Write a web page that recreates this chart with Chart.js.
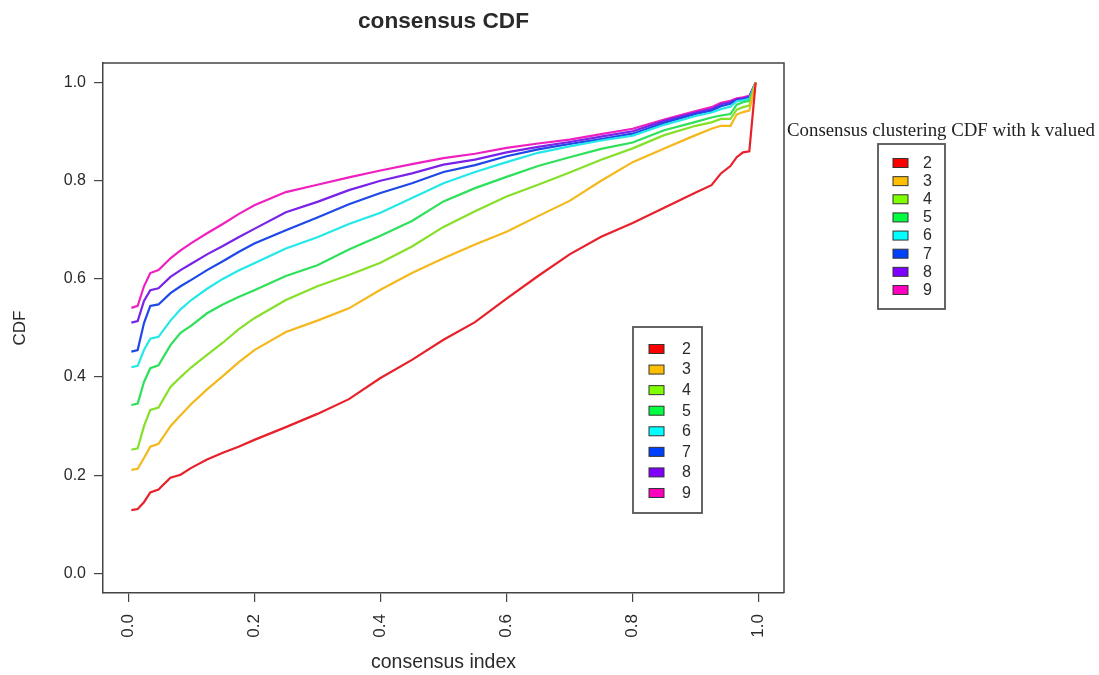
<!DOCTYPE html>
<html>
<head>
<meta charset="utf-8">
<script src="https://cdn.jsdelivr.net/npm/chart.js@4/dist/chart.umd.min.js"></script>
<style>
html,body{margin:0;padding:0;background:#fff;}
#wrap{width:1099px;height:675px;position:relative;}
</style>
</head>
<body>
<div id="wrap"><canvas id="c" width="1099" height="675"></canvas></div>
<script>
// ---- data ----
const chartTitle = "consensus CDF";
const xAxisTitle = "consensus index";
const yAxisTitle = "CDF";
const legendTitle = "Consensus clustering CDF with k valued";
const kLabels = ["2", "3", "4", "5", "6", "7", "8", "9"];
const tickValues = [0, 0.2, 0.4, 0.6, 0.8, 1.0];
const consensusIndex = [0.005, 0.015, 0.025, 0.035, 0.048, 0.067, 0.083, 0.1, 0.125, 0.15, 0.175, 0.2, 0.25, 0.3, 0.35, 0.4, 0.45, 0.5, 0.55, 0.6, 0.65, 0.7, 0.75, 0.8, 0.85, 0.9, 0.925, 0.94, 0.955, 0.965, 0.975, 0.985, 0.995];
const cdfK2 = [0.129, 0.131, 0.145, 0.165, 0.171, 0.195, 0.201, 0.215, 0.232, 0.246, 0.258, 0.272, 0.298, 0.325, 0.355, 0.398, 0.435, 0.476, 0.512, 0.560, 0.606, 0.650, 0.686, 0.714, 0.745, 0.776, 0.791, 0.815, 0.830, 0.848, 0.858, 0.860, 1.0];
const cdfK3 = [0.211, 0.213, 0.235, 0.258, 0.264, 0.300, 0.322, 0.345, 0.375, 0.402, 0.430, 0.455, 0.492, 0.515, 0.540, 0.578, 0.612, 0.642, 0.670, 0.696, 0.728, 0.759, 0.800, 0.838, 0.866, 0.893, 0.906, 0.912, 0.912, 0.935, 0.940, 0.943, 1.0];
const cdfK4 = [0.252, 0.255, 0.300, 0.333, 0.338, 0.380, 0.400, 0.420, 0.445, 0.470, 0.497, 0.520, 0.557, 0.585, 0.608, 0.633, 0.666, 0.706, 0.738, 0.768, 0.792, 0.817, 0.843, 0.866, 0.893, 0.912, 0.919, 0.926, 0.926, 0.945, 0.950, 0.953, 1.0];
const cdfK5 = [0.343, 0.346, 0.390, 0.418, 0.424, 0.465, 0.490, 0.505, 0.530, 0.548, 0.563, 0.577, 0.606, 0.628, 0.660, 0.688, 0.718, 0.758, 0.785, 0.808, 0.830, 0.848, 0.865, 0.878, 0.903, 0.920, 0.929, 0.933, 0.936, 0.955, 0.960, 0.963, 1.0];
const cdfK6 = [0.420, 0.423, 0.455, 0.478, 0.482, 0.515, 0.538, 0.557, 0.580, 0.600, 0.617, 0.632, 0.662, 0.685, 0.712, 0.735, 0.765, 0.795, 0.818, 0.838, 0.857, 0.870, 0.882, 0.892, 0.914, 0.932, 0.939, 0.946, 0.951, 0.962, 0.964, 0.967, 1.0];
const cdfK7 = [0.452, 0.455, 0.510, 0.545, 0.548, 0.571, 0.585, 0.598, 0.618, 0.636, 0.655, 0.672, 0.699, 0.725, 0.752, 0.775, 0.795, 0.818, 0.832, 0.850, 0.864, 0.875, 0.885, 0.896, 0.918, 0.936, 0.943, 0.952, 0.957, 0.964, 0.966, 0.969, 1.0];
const cdfK8 = [0.511, 0.514, 0.555, 0.577, 0.581, 0.604, 0.618, 0.631, 0.650, 0.667, 0.685, 0.702, 0.736, 0.757, 0.781, 0.800, 0.815, 0.833, 0.843, 0.858, 0.869, 0.879, 0.890, 0.901, 0.922, 0.939, 0.946, 0.956, 0.960, 0.966, 0.968, 0.971, 1.0];
const cdfK9 = [0.541, 0.545, 0.585, 0.612, 0.618, 0.642, 0.658, 0.673, 0.693, 0.712, 0.732, 0.750, 0.777, 0.792, 0.807, 0.821, 0.834, 0.846, 0.855, 0.867, 0.876, 0.884, 0.895, 0.906, 0.925, 0.942, 0.950, 0.959, 0.963, 0.968, 0.970, 0.973, 1.0];

// ---- styles ----
const lineColors = ["#e8202a", "#f4b81c", "#86e02a", "#2ee05a", "#24e8e8", "#1f48e8", "#7a22e8", "#f020c0"];
const keyColors = ["#FF0000", "#FFBF00", "#80FF00", "#00FF40", "#00FFFF", "#0040FF", "#8000FF", "#FF00BF"];
const allSeries = [cdfK2, cdfK3, cdfK4, cdfK5, cdfK6, cdfK7, cdfK8, cdfK9];
const SANS = '"Liberation Sans", Arial, sans-serif';
const SERIF = '"Liberation Serif", "DejaVu Serif", serif';
const TXT = '#2a2a2a';

const datasets = allSeries.map((ys, i) => ({
  label: kLabels[i],
  data: consensusIndex.map((x, j) => ({x: x, y: ys[j]})),
  borderColor: lineColors[i],
  backgroundColor: lineColors[i],
  borderWidth: 2.2,
  pointRadius: 0,
  tension: 0,
  fill: false
}));

function fitFont(ctx, text, weight, family, target) {
  ctx.font = weight + ' 100px ' + family;
  const w = ctx.measureText(text).width;
  return weight + ' ' + (100 * target / w).toFixed(2) + 'px ' + family;
}

function drawLegend(ctx, box, firstY, step, sqX, txtX) {
  ctx.save();
  ctx.strokeStyle = '#555';
  ctx.lineWidth = 1.8;
  ctx.strokeRect(box[0], box[1], box[2] - box[0], box[3] - box[1]);
  ctx.font = '16px ' + SANS;
  ctx.textAlign = 'left';
  ctx.textBaseline = 'middle';
  kLabels.forEach((lab, i) => {
    const cy = firstY + i * step;
    ctx.fillStyle = keyColors[i];
    ctx.fillRect(sqX, cy - 4.5, 15, 9);
    ctx.strokeStyle = '#333';
    ctx.lineWidth = 1;
    ctx.strokeRect(sqX, cy - 4.5, 15, 9);
    ctx.fillStyle = TXT;
    ctx.fillText(lab, txtX, cy + 0.5);
  });
  ctx.restore();
}

const decor = {
  id: 'decor',
  afterDraw(chart) {
    const ctx = chart.ctx;
    const a = chart.chartArea;
    ctx.save();
    // box top and right
    ctx.strokeStyle = '#444';
    ctx.lineWidth = 1.5;
    ctx.beginPath();
    ctx.moveTo(a.left, a.top);
    ctx.lineTo(a.right, a.top);
    ctx.lineTo(a.right, a.bottom);
    ctx.stroke();
    // main title
    ctx.fillStyle = TXT;
    ctx.textAlign = 'center';
    ctx.textBaseline = 'middle';
    ctx.font = fitFont(ctx, chartTitle, 'bold', SANS, 171);
    ctx.fillText(chartTitle, (a.left + a.right) / 2, 22);
    // x axis title
    ctx.font = fitFont(ctx, xAxisTitle, 'normal', SANS, 145);
    ctx.fillText(xAxisTitle, (a.left + a.right) / 2, 663);
    // y axis title
    ctx.save();
    ctx.translate(20, (a.top + a.bottom) / 2);
    ctx.rotate(-Math.PI / 2);
    ctx.font = '17px ' + SANS;
    ctx.fillText(yAxisTitle, 0, 0);
    ctx.restore();
    // legend title (serif)
    ctx.textAlign = 'left';
    ctx.font = fitFont(ctx, legendTitle, 'normal', SERIF, 308);
    ctx.fillStyle = '#222';
    ctx.fillText(legendTitle, 787, 131);
    ctx.restore();
    // legends
    drawLegend(ctx, [633, 327, 702, 513], 349, 20.57, 649, 682);
    drawLegend(ctx, [878, 144, 945, 309], 163, 18.14, 893, 923);
  }
};

const axisCommon = {
  type: 'linear',
  min: -0.04,
  max: 1.04,
  afterBuildTicks: (s) => { s.ticks = tickValues.map(v => ({value: v})); },
  grid: {display: true, drawOnChartArea: false, drawTicks: true, tickLength: 9, color: '#444', lineWidth: 1.2},
  border: {display: true, color: '#444', width: 1.5}
};

new Chart(document.getElementById('c'), {
  type: 'line',
  data: {datasets: datasets},
  options: {
    responsive: false,
    animation: false,
    layout: {padding: {left: 0, top: 63, right: 315, bottom: 0}},
    plugins: {legend: {display: false}, title: {display: false}, tooltip: {enabled: false}},
    scales: {
      x: Object.assign({}, axisCommon, {
        position: 'bottom',
        afterFit: (s) => { s.height = 82; },
        ticks: {autoSkip: false, minRotation: 90, maxRotation: 90, padding: 12, color: TXT,
          font: {family: SANS, size: 17}, callback: (v) => Number(v).toFixed(1)}
      }),
      y: Object.assign({}, axisCommon, {
        position: 'left',
        afterFit: (s) => { s.width = 103; },
        ticks: {autoSkip: false, padding: 8, color: TXT,
          font: {family: SANS, size: 16}, callback: (v) => Number(v).toFixed(1)}
      })
    }
  },
  plugins: [decor]
});
</script>
</body>
</html>
